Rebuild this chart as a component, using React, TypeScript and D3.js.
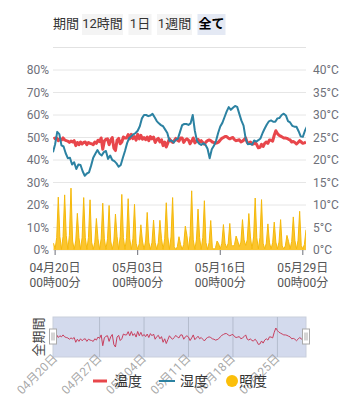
import * as d3 from "d3"
import React from "react"

// period selector
const periodLabel = "期間"
const periodButtons = ["12時間", "1日", "1週間", "全て"]
const activeButton = "全て"

// axes
const humidityTicks = [0, 10, 20, 30, 40, 50, 60, 70, 80]
const temperatureTicks = [0, 5, 10, 15, 20, 25, 30, 35, 40]
const axisDates = ["2024-04-20", "2024-05-03", "2024-05-16", "2024-05-29"]
const sliderDates = ["2024-04-20", "2024-04-27", "2024-05-04", "2024-05-11", "2024-05-18", "2024-05-25"]
const sliderName = "全期間"

const legendNames = ["温度", "湿度", "照度"]

// 湿度 (%), every 8 hours from 04/19 16:00
const humidityStart = "2024-04-19 16:00"
const humidityStepHours = 8
const humidity = [
    43.5, 47, 52.5, 51.5, 46.5, 46, 43, 40.8, 41, 38,
    39, 36, 38, 37.8, 35, 33, 34, 34.5, 37.5, 41,
    42.8, 44.4, 42.8, 42, 43.5, 44, 40.5, 42, 40, 39.5,
    38.5, 37, 37.8, 41, 44, 47.5, 49.8, 50.6, 51.4, 52,
    53, 55, 58.5, 60, 60, 59.5, 59.8, 60.5, 59, 57.3,
    56.3, 55.5, 55, 53.5, 52, 48.5, 48.7, 47.7, 49, 49.5,
    52.5, 55.5, 56, 56, 55.6, 56.3, 60, 53, 48.5, 47.3,
    46.7, 47.4, 46.8, 45, 40.8, 44.8, 46.3, 48.5, 52, 54.9,
    56.5, 59, 61.5, 63.5, 62.3, 63.2, 64, 63.6, 60.5, 57.5,
    55.3, 49.5, 47, 47.2, 46.8, 48.7, 48.2, 48.8, 49.6, 52,
    54, 55.8, 57.2, 57.6, 57, 57, 58.5, 58.7, 60, 60.6,
    59.8, 57.3, 56.7, 55.2, 54.8, 54.8, 52.8, 50.5, 50.3, 53,
    55,
]

// 温度 (°C), every 6 hours from 04/19 18:00
const temperatureStart = "2024-04-19 18:00"
const temperatureStepHours = 6
const temperature = [
    24.7, 24.9, 24.9, 24.3, 24.7, 24.45, 24.9, 24.45, 24.3, 24.2,
    23.9, 24.2, 24.0, 24.3, 23.2, 23.9, 23.4, 24.0, 23.55, 23.9,
    24.0, 23.4, 23.9, 23.7, 23.6, 23.4, 24.0, 23.7, 24.4, 24.1,
    24.9, 22.4, 24.2, 24.6, 24.7, 23.4, 24.45, 25.0, 22.65, 22.1,
    24.4, 24.8, 23.6, 24.0, 25.1, 24.9, 24.9, 25.65, 24.7, 25.7,
    24.75, 25.2, 24.4, 25.7, 24.7, 25.5, 24.6, 25.0, 24.5, 25.1,
    24.3, 25.2, 24.7, 25.1, 23.9, 24.5, 24.8, 24.0, 24.5, 23.2,
    24.0, 22.9, 23.8, 24.7, 24.2, 23.9, 24.3, 24.8, 24.4, 24.2,
    24.9, 24.9, 23.9, 24.45, 24.7, 24.4, 23.6, 24.2, 24.9, 23.8,
    24.2, 24.6, 24.0, 24.3, 23.9, 23.5, 24.0, 24.3, 24.45, 24.3,
    24.0, 23.9, 23.7, 23.8, 24.0, 24.45, 24.8, 25.0, 25.2, 25.2,
    24.9, 24.7, 24.9, 25.0, 24.5, 24.3, 24.4, 24.5, 24.0, 24.2,
    24.5, 24.9, 23.9, 23.7, 24.0, 23.55, 23.55, 23.9, 23.4, 22.7,
    22.8, 23.5, 23.0, 23.7, 24.0, 23.7, 24.45, 24.4, 24.2, 25.5,
    26.5, 25.9, 25.5, 25.3, 25.1, 24.9, 24.9, 24.8, 24.6, 24.45,
    24.0, 24.1, 23.9, 23.55, 23.9, 24.3, 24.0, 23.7, 23.8, 24.0,
]

// 照度 (lx), every 6 hours from 04/19 18:00
const illuminanceStart = "2024-04-19 18:00"
const illuminanceStepHours = 6
const illuminance = [
    30,
    5, 55, 235, 60, 3, 60, 245, 65, 3, 65, 275, 40, 3, 40, 163, 55,
    3, 55, 233, 55, 3, 55, 223, 35, 3, 35, 140, 50, 3, 50, 208, 50,
    3, 50, 198, 40, 3, 40, 160, 60, 3, 60, 247, 55, 3, 55, 228, 50,
    3, 50, 203, 30, 3, 28, 112, 40, 3, 40, 167, 35, 3, 33, 133, 33,
    3, 33, 132, 50, 3, 50, 210, 58, 3, 58, 233, 15, 2, 15, 59, 25,
    3, 25, 106, 65, 3, 65, 263, 45, 3, 45, 182, 55, 3, 55, 219, 33,
    3, 33, 131, 12, 2, 10, 40, 28, 5, 30, 113, 30, 10, 30, 118, 25,
    15, 25, 62, 40, 15, 35, 135, 45, 20, 45, 162, 58, 5, 58, 231, 55,
    5, 55, 224, 30, 5, 30, 116, 32, 5, 32, 124, 35, 5, 35, 135, 18,
    5, 18, 65, 38, 5, 38, 147, 43, 5, 43, 172, 20,
    5, 25, 90,
]

const FONT = "Roboto, 'Noto Sans CJK JP', sans-serif"
const RED = "#e8464b"
const BLUE = "#2c82a2"
const YELLOW = "#fcc52e"

const parseTime = d3.timeParse("%Y-%m-%d %H:%M")
const parseDay = d3.timeParse("%Y-%m-%d")
const fmtDay = d3.timeFormat("%m月%d日")
const fmtHour = d3.timeFormat("%H時%M分")

const toSeries = (startText, stepHours, values) => {
    const start = parseTime(startText)
    return values.map((v, i) => ({ t: d3.timeHour.offset(start, i * stepHours), v }))
}

const App = () => {
    const humSeries = toSeries(humidityStart, humidityStepHours, humidity)
    const tempSeries = toSeries(temperatureStart, temperatureStepHours, temperature)
    const illumSeries = toSeries(illuminanceStart, illuminanceStepHours, illuminance)

    const plot = { left: 53, right: 306, top: 70, bottom: 250 }

    const scaleX = d3.scaleTime()
        .domain([parseTime(humidityStart), tempSeries[tempSeries.length - 1].t])
        .range([plot.left, plot.right])
    const scaleHum = d3.scaleLinear().domain([0, 80]).range([plot.bottom, plot.top])
    const scaleTemp = d3.scaleLinear().domain([0, 40]).range([plot.bottom, plot.top])
    const scaleIllum = d3.scaleLinear().domain([0, 800]).range([plot.bottom, plot.top])

    const humLine = d3.line().x(d => scaleX(d.t)).y(d => scaleHum(d.v))
    const tempLine = d3.line().x(d => scaleX(d.t)).y(d => scaleTemp(d.v))
    const illumArea = d3.area().x(d => scaleX(d.t)).y0(plot.bottom).y1(d => scaleIllum(d.v))
    const illumLine = d3.line().x(d => scaleX(d.t)).y(d => scaleIllum(d.v))

    // data zoom slider
    const slider = { top: 317, bottom: 357 }
    const scaleMini = d3.scaleLinear()
        .domain(d3.extent(temperature))
        .range([slider.bottom - 10, slider.top + 11])
    const miniLine = d3.line().x(d => scaleX(d.t)).y(d => scaleMini(d.v))

    // buttons
    const btnWidths = [41, 23, 35, 28]
    let bx = 82
    const buttons = periodButtons.map((label, i) => {
        const b = { label, x: bx, w: btnWidths[i] }
        bx += btnWidths[i] + 5.5
        return b
    })

    const handle = (x) => (
        <g transform={`translate(${x},336.5)`}>
            <rect x={-3.5} y={-7.5} width={7} height={15} fill="#fff" stroke="#aaa" strokeWidth={1} />
            <line x1={-1} x2={-1} y1={-4} y2={4} stroke="#aaa" />
            <line x1={1} x2={1} y1={-4} y2={4} stroke="#aaa" />
        </g>
    )

    return (
        <svg width={362} height={400} style={{ position: "absolute", left: 0, top: 0 }} fontFamily={FONT}>
            <defs>
                <clipPath id="plot-clip">
                    <rect x={plot.left} y={plot.top - 30} width={plot.right - plot.left} height={plot.bottom - plot.top + 30} />
                </clipPath>
            </defs>

            {/* period buttons */}
            <text x={53} y={28} fontSize={13} fill="#333">{periodLabel}</text>
            {buttons.map(b => (
                <g key={b.label}>
                    <rect x={b.x} y={14} width={b.w} height={21}
                        fill={b.label === activeButton ? "#e4e9f4" : "#f4f4f4"} />
                    <text x={b.x + b.w / 2} y={28} fontSize={13} textAnchor="middle"
                        fill={b.label === activeButton ? "#000" : "#333"}
                        fontWeight={b.label === activeButton ? "bold" : "normal"}>{b.label}</text>
                </g>
            ))}

            {/* top separator */}
            <line x1={plot.left} x2={plot.right} y1={scaleHum(90)} y2={scaleHum(90)} stroke="#e2e2e2" />

            {/* grid + y labels */}
            {humidityTicks.map(t => (
                <g key={t}>
                    <line x1={plot.left} x2={plot.right} y1={scaleHum(t)} y2={scaleHum(t)} stroke="#e6e6e6" />
                    <text x={49} y={scaleHum(t) + 4} fontSize={12} fill="#6e7079" textAnchor="end">{t}%</text>
                </g>
            ))}
            {temperatureTicks.map(t => (
                <text key={t} x={313} y={scaleTemp(t) + 4} fontSize={12} fill="#6e7079">{t}°C</text>
            ))}

            {/* series */}
            <g clipPath="url(#plot-clip)">
                <path d={illumArea(illumSeries)} fill={YELLOW} />
                <path d={illumLine(illumSeries)} fill="none" stroke="#f5b90a" strokeWidth={1} />
                <path d={tempLine(tempSeries)} fill="none" stroke={RED} strokeWidth={3} strokeLinejoin="round" />
                <path d={humLine(humSeries)} fill="none" stroke={BLUE} strokeWidth={2} strokeLinejoin="round" />
            </g>

            {/* x axis */}
            {axisDates.map(s => {
                const d = parseDay(s)
                const x = scaleX(d)
                return (
                    <g key={s}>
                        <line x1={x} x2={x} y1={plot.bottom} y2={plot.bottom + 5} stroke="#6e7079" />
                        <text x={x} y={272} fontSize={12} fill="#555" textAnchor="middle">{fmtDay(d)}</text>
                        <text x={x} y={287} fontSize={12} fill="#555" textAnchor="middle">{fmtHour(d)}</text>
                    </g>
                )
            })}

            {/* slider */}
            <rect x={plot.left} y={slider.top} width={plot.right - plot.left} height={slider.bottom - slider.top}
                fill="#d3daed" stroke="#c9cfdc" />
            {sliderDates.slice(1).map(s => {
                const x = scaleX(parseDay(s))
                return <line key={s} x1={x} x2={x} y1={slider.top} y2={slider.bottom} stroke="#b4bccd" />
            })}
            <path d={miniLine(tempSeries)} fill="none" stroke="#c83f5e" strokeWidth={1} />
            {handle(plot.left)}
            {handle(plot.right)}
            <text transform={`translate(43,337) rotate(-90)`} fontSize={13} fill="#444" textAnchor="middle">{sliderName}</text>
            {sliderDates.map(s => {
                const x = scaleX(parseDay(s))
                return (
                    <text key={s} transform={`translate(${x + 3},359) rotate(-45)`} fontSize={12}
                        fill="#999" fillOpacity={0.85} textAnchor="end">{fmtDay(parseDay(s))}</text>
                )
            })}

            {/* legend */}
            <line x1={93} x2={107} y1={381} y2={381} stroke={RED} strokeWidth={3} />
            <text x={114} y={386} fontSize={14} fill="#333">{legendNames[0]}</text>
            <line x1={159} x2={175} y1={381} y2={381} stroke={BLUE} strokeWidth={2} />
            <text x={180} y={386} fontSize={14} fill="#333">{legendNames[1]}</text>
            <circle cx={232} cy={381} r={6} fill="#fbbf0a" />
            <text x={239} y={386} fontSize={14} fill="#333">{legendNames[2]}</text>
        </svg>
    )
}

export default App
